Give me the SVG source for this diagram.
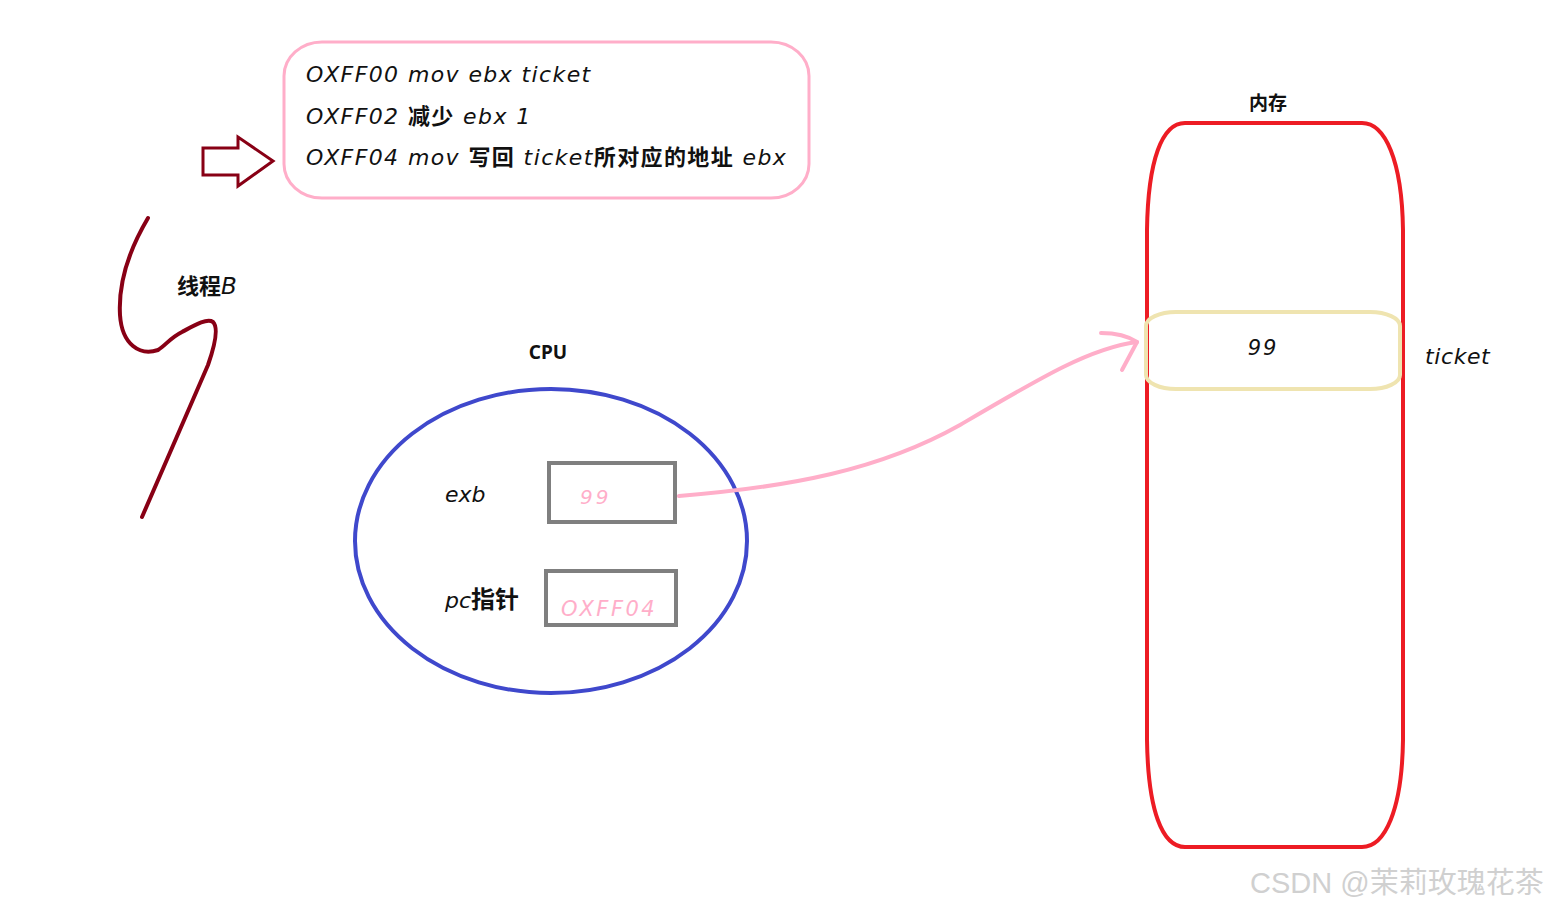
<svg xmlns="http://www.w3.org/2000/svg" width="1550" height="909" viewBox="0 0 1550 909">
<style>
.hw{font-family:"DejaVu Sans","Noto Sans CJK SC",sans-serif;font-style:italic;fill:#111;}
.cjk{font-family:"Noto Sans CJK SC",sans-serif;font-weight:bold;fill:#111;}
.lbl{font-family:"Noto Sans","Noto Sans CJK SC",sans-serif;font-weight:bold;fill:#111;font-size:19px;}
.pinkt{font-family:"DejaVu Sans",sans-serif;font-style:italic;fill:#FFAEC9;}
.reg{fill:none;stroke:#7F7F7F;stroke-width:4;}
.wm{font-family:"Liberation Sans","Noto Sans CJK SC",sans-serif;font-size:29px;fill:#d0d0d0;}
.code{font-size:22px;letter-spacing:1.4px;}
</style>
<rect width="1550" height="909" fill="#fff"/>
<g id="code">
<rect x="284" y="42" width="525" height="156" rx="38" ry="34" fill="none" stroke="#FFAEC9" stroke-width="3"/>
<text class="hw code" x="306" y="82">OXFF00 mov ebx ticket</text>
<text class="hw code" x="306" y="124">OXFF02 <tspan class="cjk" font-style="normal">减少</tspan> ebx 1</text>
<text class="hw code" x="306" y="165">OXFF04 mov <tspan class="cjk" font-style="normal">写回</tspan> ticket<tspan class="cjk" font-style="normal">所对应的地址</tspan> ebx</text>
</g>
<g id="pointer">
<path d="M203,148 L238,148 L238,137 L273,161 L238,186 L238,175 L203,175 Z" fill="none" stroke="#880015" stroke-width="3" stroke-linejoin="miter"/>
</g>
<g id="threadB">
<path d="M148,218 C132,245 118,280 120,315 C122,345 140,356 158,350 C166,345 170,338 182,332 C195,325 207,318 213,322 C219,328 215,345 208,365 L142,517" fill="none" stroke="#880015" stroke-width="4" stroke-linecap="round" stroke-linejoin="round"/>
<text class="lbl" x="177" y="294" style="font-size:22px">线程<tspan style="font-style:italic;font-weight:normal;font-family:'DejaVu Sans';font-size:23px">B</tspan></text>
</g>
<g id="cpu">
<text class="lbl" x="548" y="359" text-anchor="middle">CPU</text>
<ellipse cx="551" cy="541" rx="196" ry="152" fill="none" stroke="#3F48CC" stroke-width="4"/>
<text class="hw" x="445" y="502" font-size="22">exb</text>
<rect class="reg" x="549" y="463" width="126" height="59"/>
<text class="pinkt" x="580" y="504" font-size="20" letter-spacing="3">99</text>
<text class="hw" x="445" y="608" font-size="22">pc<tspan class="cjk" font-style="normal" font-size="24">指针</tspan></text>
<rect class="reg" x="546" y="571" width="130" height="54"/>
<text class="pinkt" x="561" y="616" font-size="21" letter-spacing="2.5">OXFF04</text>
</g>
<g id="memory">
<text class="lbl" x="1268" y="110" text-anchor="middle">内存</text>
<path d="M1185,123 L1362,123 C1385,123 1402,160 1403,230 L1403,740 C1402,810 1385,847 1362,847 L1185,847 C1162,847 1148,810 1147,740 L1147,230 C1148,160 1162,123 1185,123 Z" fill="none" stroke="#ED1C24" stroke-width="4"/>
</g>
<g id="ticket">
<rect x="1146" y="312" width="254" height="77" rx="30" ry="14" fill="none" stroke="#EFE4B0" stroke-width="4"/>
<text class="hw" x="1263" y="355" font-size="21" text-anchor="middle" letter-spacing="2">99</text>
<text class="hw" x="1425" y="364" font-size="22" letter-spacing="0.6">ticket</text>
</g>
<g id="connectors">
<path d="M679,496 C790,487 880,470 960,425 C1040,378 1090,348 1137,342" fill="none" stroke="#FFAEC9" stroke-width="4" stroke-linecap="round"/>
<path d="M1101,333 C1115,333 1128,336 1137,342 L1122,370" fill="none" stroke="#FFAEC9" stroke-width="4" stroke-linecap="round" stroke-linejoin="round"/>
</g>
<text class="wm" x="1250" y="893">CSDN @茉莉玫瑰花茶</text>
</svg>
